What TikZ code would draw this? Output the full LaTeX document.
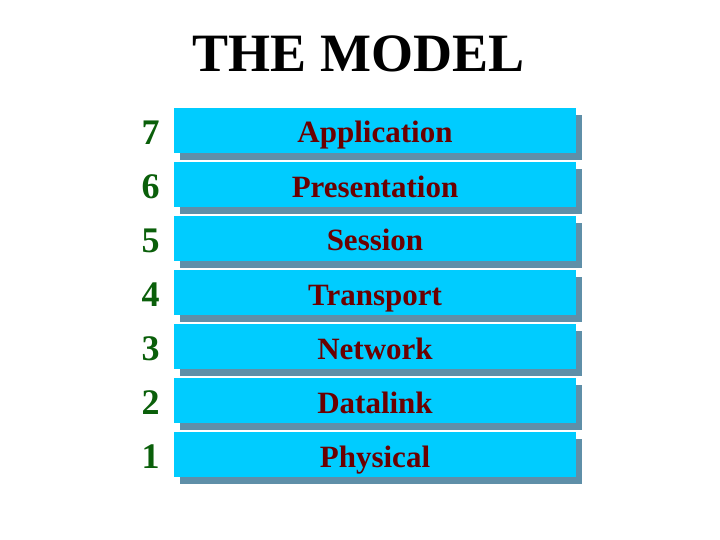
\documentclass[tikz,border=0pt]{standalone}
\usepackage{fontspec}
\setmainfont{Liberation Serif}
\usepackage{tikz}
\usetikzlibrary{positioning,shadows}

\definecolor{layerblue}{HTML}{00CCFF}
\definecolor{shadowblue}{HTML}{5F8FA8}
\definecolor{numgreen}{HTML}{0A5F0A}
\definecolor{namered}{HTML}{6B0000}

\tikzset{
  layer/.style={fill=layerblue, minimum width=402pt, minimum height=45pt,
    inner sep=0pt, text height=25pt, text depth=0pt, text=namered,
    font=\fontsize{31}{36}\selectfont\bfseries,
    drop shadow={shadow xshift=6pt, shadow yshift=-7pt, fill=shadowblue, opacity=1}},
  num/.style={inner sep=0pt, text=numgreen, font=\fontsize{36}{40}\selectfont\bfseries},
  title/.style={inner sep=0pt, font=\fontsize{54}{60}\selectfont\bfseries}
}

\begin{document}
\begin{tikzpicture}[x=1pt,y=-1pt]
\useasboundingbox (0,0) rectangle (720,540);

\node[title, anchor=base] (title) at (358.5,72) {THE MODEL};

\foreach \n/\name in {7/Application, 6/Presentation, 5/Session, 4/Transport,
                      3/Network, 2/Datalink, 1/Physical}
{
  \node[layer] (l\n) at (375, {130.5+54*(7-\n)}) {\name};
  \node[num, left=14pt of l\n, yshift=-2pt] (n\n) {\n};
}
\end{tikzpicture}
\end{document}
